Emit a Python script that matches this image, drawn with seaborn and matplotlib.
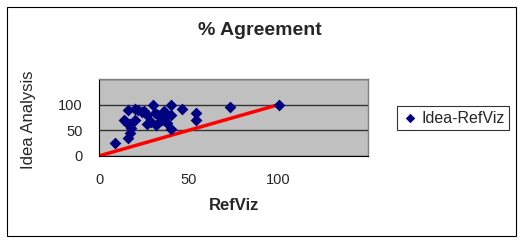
import matplotlib
matplotlib.use("Agg")
import matplotlib.pyplot as plt
import seaborn as sns
import pandas as pd
from matplotlib.patches import Rectangle

refviz = [9, 16, 17, 14, 16, 20, 20, 17, 25, 30, 27, 27, 31, 32, 35, 36, 40, 40, 40, 46,
          54, 54, 73, 100, 15, 24, 29, 37, 18, 22, 33, 38]
idea = [25, 35, 45, 70, 90, 92, 70, 63, 88, 100, 80, 63, 83, 60, 70, 88, 100, 80, 52, 92,
        83, 70, 95, 100, 66, 86, 66, 76, 55, 90, 80, 65]
line_x = [0, 100]
line_y = [0, 100]
ticks = [0, 50, 100, 150]
tick_labels = ["0", "50", "100", ""]

sns.set_style("white")
plt.rcParams['font.family'] = ['Liberation Sans', 'DejaVu Sans']

fig = plt.figure(figsize=(5.28, 2.44), dpi=100)
ax = fig.add_axes([0.1875, 0.361, 0.510, 0.315])
ax.set_facecolor("#C0C0C0")

df = pd.DataFrame({"RefViz": refviz, "Idea": idea})
sns.lineplot(x=line_x, y=line_y, color="#FF0000", linewidth=2.5, ax=ax, legend=False, zorder=2)
sns.scatterplot(data=df, x="RefViz", y="Idea", marker="D", color="#000080", s=36,
                edgecolor="#000080", linewidth=0, ax=ax, label="Idea-RefViz", zorder=3)

ax.set_xlim(0, 150)
ax.set_ylim(0, 150)
ax.set_xticks(ticks)
ax.set_xticklabels(tick_labels, fontsize=10.5)
ax.set_yticks(ticks)
ax.set_yticklabels(tick_labels, fontsize=10.5)
ax.tick_params(axis="both", direction="out", length=4, width=0.8, color="black", pad=8)
ax.grid(axis="y", color="#333333", linewidth=1.0, zorder=1)
ax.set_axisbelow(True)
for side in ["top", "right"]:
    ax.spines[side].set_color("#808080")
    ax.spines[side].set_linewidth(1.0)
for side in ["left", "bottom"]:
    ax.spines[side].set_color("black")
    ax.spines[side].set_linewidth(0.8)

ax.set_xlabel("RefViz", fontsize=12, fontweight="bold", labelpad=8)
ax.set_ylabel("Idea Analysis", fontsize=12)
ax.yaxis.set_label_coords(-0.235, 0.47)
fig.text(0.492, 0.877, "% Agreement", ha="center", va="center", fontsize=14, fontweight="bold")

leg = ax.legend(loc="center left", bbox_to_anchor=(0.752, 0.516), bbox_transform=fig.transFigure,
                frameon=True, fancybox=False, fontsize=11.5, handletextpad=0.2,
                borderpad=0.3, borderaxespad=0, markerscale=0.8, handlelength=1.0)
leg.get_frame().set_edgecolor("black")
leg.get_frame().set_linewidth(0.8)

fig.patches.append(Rectangle((0.013, 0.033), 0.964, 0.938, transform=fig.transFigure,
                             fill=False, edgecolor="black", linewidth=0.8))

fig.savefig("out.png", dpi=100)
